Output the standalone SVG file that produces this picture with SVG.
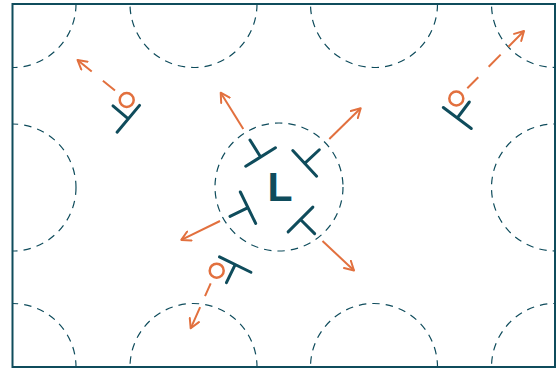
<svg xmlns="http://www.w3.org/2000/svg" width="559" height="369" viewBox="0 0 559 369">
<style>
.frame{fill:none;stroke:#0f4c5c;stroke-width:2}
.zone{fill:none;stroke:#0f4c5c;stroke-width:1.2;stroke-dasharray:7.5 6}
.tee{fill:none;stroke:#0f4c5c;stroke-width:3;stroke-linecap:round}
.ring{fill:none;stroke:#e2703e;stroke-width:2.5}
.arr{fill:none;stroke:#e2703e;stroke-width:2;marker-end:url(#ah)}
.lbl{font-family:"Liberation Sans",Arial,sans-serif;font-weight:bold;font-size:41px;fill:#0f4c5c}
</style>
<defs>
<clipPath id="clip"><rect x="12.5" y="4" width="542.5" height="363"/></clipPath>
<path id="t" d="M-17.5,0 H17.5 M0,0 V-20"/>
<marker id="ah" viewBox="0 0 12 12" refX="10" refY="6" markerWidth="12" markerHeight="12" markerUnits="userSpaceOnUse" orient="auto">
<path d="M1,1 L10,6 L1,11" fill="none" stroke="#e2703e" stroke-width="2" stroke-linecap="round" stroke-linejoin="round"/>
</marker>
</defs>
<rect x="0" y="0" width="559" height="369" fill="#ffffff"/>
<g id="zones" clip-path="url(#clip)">
<circle class="zone" cx="12.5" cy="4" r="63.5"/>
<circle class="zone" cx="193.5" cy="4" r="63.5"/>
<circle class="zone" cx="374" cy="4" r="63.5"/>
<circle class="zone" cx="555" cy="4" r="63.5"/>
<circle class="zone" cx="12.5" cy="187.5" r="63.5"/>
<circle class="zone" cx="555" cy="187.5" r="63.5"/>
<circle class="zone" cx="12.5" cy="367" r="63.5"/>
<circle class="zone" cx="193.5" cy="367" r="63.5"/>
<circle class="zone" cx="374" cy="367" r="63.5"/>
<circle class="zone" cx="555" cy="367" r="63.5"/>
</g>
<rect class="frame" x="12.5" y="4" width="542.5" height="363"/>
<g id="loop">
<circle class="zone" cx="279" cy="187" r="64"/>
<text class="lbl" x="280" y="201" text-anchor="middle">L</text>
<use href="#t" class="tee" transform="translate(260.6,157) rotate(-32)"/>
<use href="#t" class="tee" transform="translate(304.7,163.4) rotate(47)"/>
<use href="#t" class="tee" transform="translate(248,207.7) rotate(-116)"/>
<use href="#t" class="tee" transform="translate(300.5,219.5) rotate(135)"/>
</g>
<g id="disl-tl">
<use href="#t" class="tee" transform="translate(128.3,118.8) rotate(-50)"/>
<circle class="ring" cx="126.7" cy="100" r="7"/>
</g>
<g id="disl-tr">
<use href="#t" class="tee" transform="translate(457.3,118) rotate(37)"/>
<circle class="ring" cx="456.3" cy="98.5" r="7"/>
</g>
<g id="disl-bl">
<use href="#t" class="tee" transform="translate(235.2,264.6) rotate(-154)"/>
<circle class="ring" cx="216.7" cy="270.7" r="7"/>
</g>
<g id="connectors">
<path class="arr" d="M243.3,129 L220.7,92.7"/>
<path class="arr" d="M329.3,139 L360.7,108.3"/>
<path class="arr" d="M220,221 L181.3,239.9"/>
<path class="arr" d="M322.5,241 L354,270.5"/>
<path class="arr" d="M115,90.5 L77.5,60" stroke-dasharray="15.6 14.4 20"/>
<path class="arr" d="M467.3,88.3 L524,31" stroke-dasharray="15.6 14.8 17 11 30"/>
<path class="arr" d="M210.7,283.3 L190.7,328.3" stroke-dasharray="14 12 30"/>
</g>
</svg>
